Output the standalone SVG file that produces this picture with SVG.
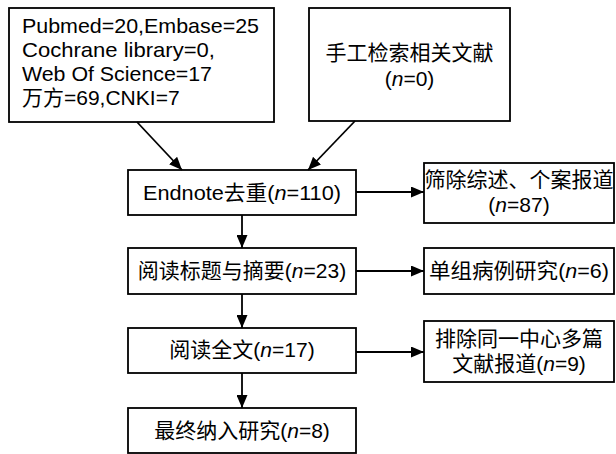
<svg xmlns="http://www.w3.org/2000/svg" width="616" height="454" viewBox="0 0 616 454">
<style>
.box{fill:#fff;stroke:#000;stroke-width:1.8}
text{font-family:"Liberation Sans","Noto Sans CJK SC",sans-serif;font-size:21px;fill:#000}
.c{text-anchor:middle}
.i{font-style:italic}
.ln{stroke:#000;stroke-width:1.8;fill:none}
</style>
<defs>
<marker id="ah" viewBox="0 0 13 11" refX="13" refY="5.5" markerWidth="13" markerHeight="11" markerUnits="userSpaceOnUse" orient="auto">
<path d="M0,0 L13,5.5 L0,11 Z" fill="#000"/>
</marker>
</defs>
<rect width="616" height="454" fill="#fff"/>
<g id="src1">
<rect class="box" x="9" y="8" width="265" height="114"/>
<text x="22" y="33" textLength="237" lengthAdjust="spacingAndGlyphs">Pubmed=20,Embase=25</text>
<text x="22" y="57" textLength="193" lengthAdjust="spacingAndGlyphs">Cochrane library=0,</text>
<text x="22" y="81" textLength="190" lengthAdjust="spacingAndGlyphs">Web Of Science=17</text>
<text x="22" y="105">万方=69,CNKI=7</text>
</g>
<g id="src2">
<rect class="box" x="309" y="8" width="201" height="113"/>
<text class="c" x="409.5" y="60">手工检索相关文献</text>
<text class="c" x="409.5" y="86">(<tspan class="i">n</tspan>=0)</text>
</g>
<g id="endnote">
<rect class="box" x="128" y="170" width="228" height="45"/>
<text class="c" x="242" y="200" textLength="198" lengthAdjust="spacingAndGlyphs">Endnote去重(<tspan class="i">n</tspan>=110)</text>
</g>
<g id="excl1">
<rect class="box" x="424" y="163" width="190" height="60"/>
<text class="c" x="519" y="187">筛除综述、个案报道</text>
<text class="c" x="519" y="212">(<tspan class="i">n</tspan>=87)</text>
</g>
<g id="title">
<rect class="box" x="128" y="248" width="228" height="46"/>
<text class="c" x="242" y="278">阅读标题与摘要(<tspan class="i">n</tspan>=23)</text>
</g>
<g id="excl2">
<rect class="box" x="424" y="248" width="190" height="46"/>
<text class="c" x="519" y="278" textLength="180" lengthAdjust="spacingAndGlyphs">单组病例研究(<tspan class="i">n</tspan>=6)</text>
</g>
<g id="full">
<rect class="box" x="128" y="328" width="228" height="45"/>
<text class="c" x="242" y="357">阅读全文(<tspan class="i">n</tspan>=17)</text>
</g>
<g id="excl3">
<rect class="box" x="424" y="321" width="190" height="61"/>
<text class="c" x="519" y="346">排除同一中心多篇</text>
<text class="c" x="519" y="371">文献报道(<tspan class="i">n</tspan>=9)</text>
</g>
<g id="final">
<rect class="box" x="128" y="408" width="228" height="45"/>
<text class="c" x="242" y="438">最终纳入研究(<tspan class="i">n</tspan>=8)</text>
</g>
<g id="connectors">
<line class="ln" x1="137" y1="122" x2="182" y2="170" marker-end="url(#ah)"/>
<line class="ln" x1="355" y1="121" x2="308" y2="170" marker-end="url(#ah)"/>
<line class="ln" x1="356" y1="192" x2="424" y2="192" marker-end="url(#ah)"/>
<line class="ln" x1="242" y1="215" x2="242" y2="248" marker-end="url(#ah)"/>
<line class="ln" x1="356" y1="271" x2="424" y2="271" marker-end="url(#ah)"/>
<line class="ln" x1="242" y1="294" x2="242" y2="328" marker-end="url(#ah)"/>
<line class="ln" x1="356" y1="352" x2="424" y2="352" marker-end="url(#ah)"/>
<line class="ln" x1="242" y1="373" x2="242" y2="408" marker-end="url(#ah)"/>
</g>
</svg>
